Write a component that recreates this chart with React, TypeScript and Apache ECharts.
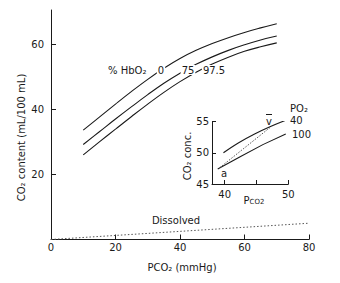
import React, { useEffect, useRef } from "react";
import * as echarts from "echarts";

// Main chart: CO2 content (mL/100 mL) vs PCO2 (mmHg)
const PCO2 = [10, 15, 20, 25, 30, 35, 40, 45, 50, 55, 60, 65, 70];
const HBO2_0 = [33.6, 37.6, 41.6, 45.5, 49.2, 52.6, 55.6, 58.1, 60.2, 62.0, 63.6, 65.0, 66.3];
const HBO2_75 = [29.2, 33.1, 37.0, 40.8, 44.5, 48.0, 51.1, 53.8, 56.1, 58.1, 59.8, 61.3, 62.5];
const HBO2_975 = [26.0, 30.0, 33.9, 37.8, 41.6, 45.2, 48.5, 51.4, 53.9, 56.0, 57.8, 59.2, 60.4];
const DISSOLVED_X = [0, 80];
const DISSOLVED_Y = [0, 5];
const MAIN_X_TICKS = [0, 20, 40, 60, 80];
const MAIN_Y_TICKS = [0, 20, 40, 60];
const MAIN_Y_LABELS = [20, 40, 60];

// Inset: CO2 conc. vs PCO2 at PO2 40 and 100
const INSET_PO2_40_X = [39.8, 42.2, 44.7, 47.2, 49.6];
const INSET_PO2_40_Y = [50.0, 51.6, 53.0, 54.2, 55.2];
const INSET_PO2_100_X = [38.9, 42.5, 46.0, 49.6];
const INSET_PO2_100_Y = [47.4, 49.4, 51.3, 53.0];
const INSET_AV_X = [39.2, 47.2];
const INSET_AV_Y = [47.6, 54.1];
const INSET_X_TICKS = [40, 45, 50];
const INSET_X_LABELS = [40, 50];
const INSET_Y_TICKS = [45, 50, 55];

const FONT = "DejaVu Sans";
const INK = "#1a1a1a";

const pairs = (xs: number[], ys: number[]) => xs.map((x, i) => [x, ys[i]]);

const txt = (
  text: string,
  x: number,
  y: number,
  align: string = "center",
  extra: any = {}
) => ({
  type: "text",
  x,
  y,
  z: 100,
  ...extra,
  style: {
    text,
    fill: INK,
    font: `10px "${FONT}"`,
    align,
    verticalAlign: "middle",
    textAlign: align,
    textVerticalAlign: "middle",
    ...(extra.style || {}),
  },
});

export default function App() {
  const ref = useRef<HTMLDivElement>(null);
  useEffect(() => {
    document.body.style.margin = "0";
    if (!ref.current) return;
    const chart = echarts.init(ref.current, undefined, { renderer: "svg" });
    const axisText = { fontFamily: FONT, fontSize: 10, color: INK };
    const axisLine = { show: true, lineStyle: { color: INK, width: 1 } };
    const curve = (data: number[][]) => ({
      type: "line",
      data,
      smooth: 0.4,
      showSymbol: false,
      symbol: "none",
      lineStyle: { color: INK, width: 1.1 },
      xAxisIndex: 0,
      yAxisIndex: 0,
      silent: true,
    });
    chart.setOption({
      animation: false,
      grid: [
        { left: 51, right: 31, top: 10, bottom: 43.5 },
        { left: 212, right: 51.7, top: 121.5, bottom: 99 },
      ],
      xAxis: [
        {
          type: "value",
          gridIndex: 0,
          min: 0,
          max: 80,
          interval: 20,
          axisLine,
          axisTick: { show: true, inside: true, length: 5, customValues: MAIN_X_TICKS, lineStyle: { color: INK } },
          axisLabel: { ...axisText, margin: 3, customValues: MAIN_X_TICKS },
          splitLine: { show: false },
        },
        {
          type: "value",
          gridIndex: 1,
          min: 38,
          max: 50,
          interval: 1,
          axisLine,
          axisTick: { show: true, inside: true, length: 4, customValues: INSET_X_TICKS, lineStyle: { color: INK } },
          axisLabel: { ...axisText, margin: 5, customValues: INSET_X_LABELS },
          splitLine: { show: false },
        },
      ],
      yAxis: [
        {
          type: "value",
          gridIndex: 0,
          min: 0,
          max: 70.5,
          interval: 10,
          axisLine,
          axisTick: { show: true, inside: true, length: 5, customValues: MAIN_Y_TICKS, lineStyle: { color: INK } },
          axisLabel: { ...axisText, margin: 7, customValues: MAIN_Y_LABELS },
          splitLine: { show: false },
        },
        {
          type: "value",
          gridIndex: 1,
          min: 45,
          max: 55,
          interval: 5,
          axisLine,
          axisTick: { show: true, inside: true, length: 4, customValues: INSET_Y_TICKS, lineStyle: { color: INK } },
          axisLabel: { ...axisText, margin: 3, customValues: INSET_Y_TICKS },
          splitLine: { show: false },
        },
      ],
      series: [
        curve(pairs(PCO2, HBO2_0)),
        curve(pairs(PCO2, HBO2_75)),
        curve(pairs(PCO2, HBO2_975)),
        {
          type: "line",
          data: pairs(DISSOLVED_X, DISSOLVED_Y),
          showSymbol: false,
          symbol: "none",
          lineStyle: { color: "#555", width: 1, type: [1.5, 2] },
          silent: true,
        },
        {
          ...curve(pairs(INSET_PO2_40_X, INSET_PO2_40_Y)),
          xAxisIndex: 1,
          yAxisIndex: 1,
        },
        {
          ...curve(pairs(INSET_PO2_100_X, INSET_PO2_100_Y)),
          smooth: false,
          xAxisIndex: 1,
          yAxisIndex: 1,
        },
        {
          type: "line",
          data: pairs(INSET_AV_X, INSET_AV_Y),
          xAxisIndex: 1,
          yAxisIndex: 1,
          showSymbol: false,
          symbol: "none",
          lineStyle: { color: "#555", width: 1, type: [1.5, 1.5] },
          silent: true,
        },
      ],
      graphic: [
        txt("CO₂ content (mL/100 mL)", 21, 137.5, "center", { rotation: Math.PI / 2 }),
        txt("PCO₂ (mmHg)", 182, 267),
        txt("Dissolved", 176, 220),
        txt("% HbO₂", 108, 70, "left"),
        txt("0", 161, 70, "center", { style: { backgroundColor: "#fff", padding: [0, 1] } }),
        txt("75", 188, 70, "center", { style: { backgroundColor: "#fff", padding: [0, 1] } }),
        txt("97.5", 214, 70, "center", { style: { backgroundColor: "#fff", padding: [0, 1] } }),
        txt("PO₂", 290, 108, "left"),
        txt("40", 290, 120, "left"),
        txt("100", 292, 134, "left"),
        txt("v", 269, 121),
        {
          type: "line",
          z: 100,
          shape: { x1: 266, y1: 114.5, x2: 272, y2: 114.5 },
          style: { stroke: INK, lineWidth: 1 },
        },
        txt("a", 224, 173),
        txt("CO₂ conc.", 187, 156, "center", { rotation: Math.PI / 2 }),
        {
          type: "text",
          x: 254,
          y: 200,
          z: 100,
          style: {
            text: "{p|P}{s|CO2}",
            align: "center",
            verticalAlign: "middle",
            textAlign: "center",
            textVerticalAlign: "middle",
            rich: {
              p: { fontFamily: FONT, fontSize: 10, fill: INK, color: INK },
              s: { fontFamily: FONT, fontSize: 7, fill: INK, color: INK, padding: [4, 0, 0, 0] },
            },
          },
        },
      ],
    });
    return () => chart.dispose();
  }, []);
  return <div ref={ref} style={{ width: 340, height: 283 }} />;
}
